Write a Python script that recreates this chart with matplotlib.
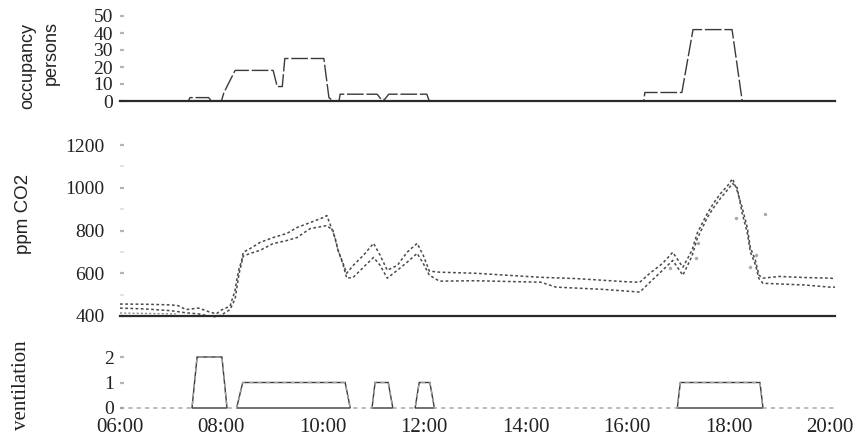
import numpy as np
import matplotlib
matplotlib.use("Agg")
import matplotlib.pyplot as plt

# ---------------- data (hours of day) ----------------
occ_t = [6.0, 7.35, 7.38, 7.75, 7.8, 8.0, 8.05, 8.27, 9.02, 9.1, 9.2, 9.25, 10.02, 10.12,
         10.2, 10.32, 10.34, 11.07, 11.15, 11.22, 11.3, 12.05, 12.1, 16.33, 16.35, 17.08,
         17.3, 18.07, 18.27, 20.1]
occ_v = [0, 0, 2, 2, 0, 0, 5, 18, 18, 8.5, 8.5, 25, 25, 2,
         0, 0, 4, 4, 1, 1, 4, 4, 0, 0, 5, 5,
         42, 42, 0, 0]

co2_a_t = [6.0, 6.5, 7.0, 7.15, 7.3, 7.55, 7.75, 7.9, 8.0, 8.17, 8.27, 8.3, 8.35, 8.4, 8.43,
           8.57, 8.76, 9.02, 9.29, 9.49, 9.75, 10.0, 10.08, 10.24, 10.3, 10.4, 10.47, 10.6,
           10.8, 11.0, 11.13, 11.27, 11.47, 11.66, 11.86, 11.98, 12.1, 12.3, 13.0, 14.3,
           15.0, 16.0, 16.25, 16.45, 16.7, 16.9, 17.1, 17.28, 17.38, 17.48, 17.58, 17.7,
           17.84, 17.98, 18.08, 18.17, 18.27, 18.37, 18.43, 18.53, 18.6, 18.68, 19.0, 19.5,
           20.0, 20.1]
co2_a = [456, 455, 452, 448, 430, 437, 420, 410, 428, 446, 520, 567, 623, 660, 698,
         716, 744, 767, 786, 814, 837, 860, 870, 767, 707, 646, 600, 637,
         684, 740, 684, 614, 637, 698, 740, 684, 610, 605, 600, 581,
         575, 560, 558, 600, 646, 698, 628, 707, 786, 833, 879, 926,
         972, 1009, 1042, 986, 907, 814, 721, 660, 591, 577, 585, 580,
         577, 575]

co2_b_t = [6.0, 6.5, 7.0, 7.3, 7.55, 7.75, 7.9, 8.0, 8.17, 8.27, 8.35, 8.43, 8.57, 8.76,
           9.02, 9.29, 9.49, 9.75, 10.08, 10.2, 10.3, 10.4, 10.47, 10.6, 10.8, 11.0,
           11.13, 11.27, 11.47, 11.66, 11.86, 11.98, 12.1, 12.3, 13.0, 14.3, 14.6, 15.5,
           16.25, 16.45, 16.7, 16.9, 17.1, 17.28, 17.38, 17.48, 17.58, 17.7, 17.84, 17.98,
           18.08, 18.17, 18.27, 18.37, 18.43, 18.53, 18.6, 18.68, 19.0, 19.5, 20.0, 20.1]
co2_b = [437, 433, 425, 415, 410, 400, 396, 405, 430, 480, 600, 680, 693, 707,
         739, 753, 767, 809, 823, 800, 707, 640, 577, 581, 628, 674,
         637, 577, 614, 651, 693, 646, 591, 563, 565, 558, 535, 525,
         512, 558, 614, 660, 591, 680, 760, 810, 860, 905, 950, 990,
         1020, 1000, 880, 790, 700, 640, 575, 553, 550, 545, 535, 535]

co2_c_t = [6.0, 6.5, 7.1]
co2_c = [414, 412, 410]

co2_pts_t = [16.85, 17.35, 17.4, 18.15, 18.43, 18.55, 18.72]
co2_pts = [623, 670, 740, 860, 628, 684, 879]

vent_t = [6.0, 7.42, 7.52, 8.01, 8.11, 8.3, 8.42, 10.44, 10.54, 10.97, 11.03, 11.29, 11.38,
          11.82, 11.9, 12.11, 12.2, 16.99, 17.05, 18.62, 18.68, 20.1]
vent_v = [0, 0, 2, 2, 0, 0, 1, 1, 0, 0, 1, 1, 0,
          0, 1, 1, 0, 0, 1, 1, 0, 0]

hours = [6, 8, 10, 12, 14, 16, 18, 20]
hour_labels = ["06:00", "08:00", "10:00", "12:00", "14:00", "16:00", "18:00", "20:00"]

# ---------------- figure ----------------
W, H = 857, 446
fig = plt.figure(figsize=(W / 100, H / 100), dpi=100)
fig.patch.set_facecolor("white")

SERIF = ["Liberation Serif", "DejaVu Serif"]
SANS = ["Liberation Sans", "DejaVu Sans"]
LINE = "#3a3a3a"
CO2C = "#4a4a4a"
BASE = "#2a2a2a"
TICKC = "#b5b5b5"

x0, x1 = 120 / W, 835 / W


def make_ax(ytop, ybot):
    return fig.add_axes([x0, 1 - ybot / H, x1 - x0, (ybot - ytop) / H])


def style(ax, ylim, yticks, pad, fs, bottom_spine=True):
    ax.set_xlim(6, 20.1)
    ax.set_ylim(*ylim)
    for s in ["left", "right", "top"]:
        ax.spines[s].set_visible(False)
    if bottom_spine:
        ax.spines["bottom"].set_color(BASE)
        ax.spines["bottom"].set_linewidth(1.6)
    else:
        ax.spines["bottom"].set_visible(False)
    ax.set_yticks(yticks)
    ax.set_yticklabels([str(v) for v in yticks], fontfamily=SERIF, fontsize=fs, color="#222")
    ax.tick_params(axis="y", direction="in", length=3, width=1.6, color=TICKC, pad=pad)
    ax.set_xticks([])
    ax.patch.set_alpha(0)


# --- occupancy ---
ax1 = make_ax(16, 101)
style(ax1, (0, 50), [0, 10, 20, 30, 40, 50], 5, 14)
ax1.plot(occ_t, occ_v, color=LINE, lw=1.0, ls=(0, (12, 2)), clip_on=False)
fig.text(28 / W, 1 - 66 / H, "occupancy", rotation=90, ha="center", va="center",
         fontfamily=SANS, fontsize=13, color="#222")
fig.text(51 / W, 1 - 53 / H, "persons", rotation=90, ha="center", va="center",
         fontfamily=SANS, fontsize=13, color="#222")

# --- CO2 ---
ax2 = make_ax(145, 316)
style(ax2, (400, 1200), [400, 600, 800, 1000, 1200], 11, 14)
ax2.set_yticks(np.arange(500, 1200, 200), minor=True)
ax2.tick_params(axis="y", which="minor", direction="in", length=3, width=1.2,
                color="#dddddd")
ax2.plot(co2_c_t, co2_c, color="#8a8a8a", lw=1.0, ls=(0, (1.5, 1.5)), clip_on=False)
ax2.plot(co2_a_t, co2_a, color=CO2C, lw=1.1, ls=(0, (1.8, 1.6)), clip_on=False)
ax2.plot(co2_b_t, co2_b, color=CO2C, lw=1.1, ls=(0, (1.8, 1.6)), clip_on=False)
ax2.scatter(co2_pts_t, co2_pts, s=6, color="#a8a8a8", lw=0)
fig.text(23 / W, 1 - 214 / H, "ppm CO2", rotation=90, ha="center", va="center",
         fontfamily=SANS, fontsize=13.5, color="#222")

# --- ventilation ---
ax3 = make_ax(357, 408)
style(ax3, (0, 2), [0, 1, 2], 4, 14, bottom_spine=False)
vt = np.array(vent_t)
vv = np.array(vent_v)
ax3.plot(vt, vv, color="#a0a0a0", lw=1.0, ls=(0, (3, 3)), clip_on=False)
# outline each ventilation pulse as a closed shape (ramp up, plateau, ramp down, base)
pos_idx = np.flatnonzero(vv > 0)
runs = np.split(pos_idx, np.flatnonzero(np.diff(pos_idx) > 1) + 1)
for run in runs:
    i0, i1 = run[0] - 1, run[-1] + 1
    ax3.fill(vt[i0:i1 + 1], vv[i0:i1 + 1], facecolor="none", edgecolor=LINE,
             lw=1.0, clip_on=False)
ax3.set_xticks(hours)
ax3.set_xticklabels(hour_labels, fontfamily=SERIF, fontsize=15, color="#222")
ax3.tick_params(axis="x", length=0, pad=7)
fig.text(22 / W, 1 - 385 / H, "ventilation", rotation=90, ha="center", va="center",
         fontfamily=SERIF, fontsize=15, color="#222")

fig.savefig("out.png", dpi=100, facecolor="white")
